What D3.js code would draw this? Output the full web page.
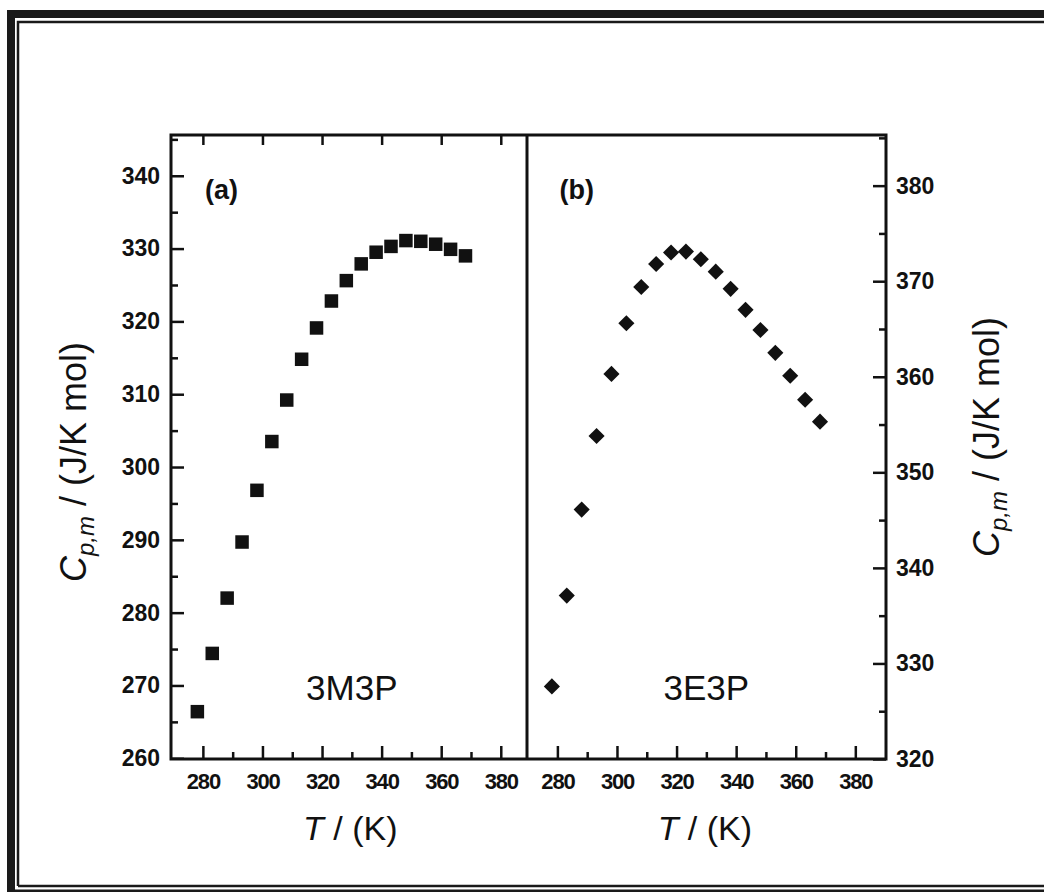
<!DOCTYPE html>
<html><head><meta charset="utf-8">
<script src="https://cdn.jsdelivr.net/npm/d3@7"></script>
<style>
html,body{margin:0;padding:0;background:#fff;}
svg{display:block;}
text{font-family:"Liberation Sans",Arial,sans-serif;fill:#111;}
</style></head>
<body>
<script>
// ---- data ----
const temps = [278.15,283.15,288.15,293.15,298.15,303.15,308.15,313.15,318.15,323.15,328.15,333.15,338.15,343.15,348.15,353.15,358.15,363.15,368.15];
const cp3M3P = [266.4,274.4,282.0,289.7,296.8,303.5,309.2,314.8,319.1,322.8,325.6,327.9,329.5,330.3,331.1,331.0,330.6,329.9,329.0];
const cp3E3P = [327.6,337.1,346.1,353.8,360.3,365.6,369.4,371.8,373.0,373.1,372.3,371.0,369.2,367.0,364.9,362.5,360.1,357.6,355.3];
const xTicksMajor = [280,300,320,340,360,380];
const xTicksMinor = [290,310,330,350,370];
const yLeftMajor = [260,270,280,290,300,310,320,330,340];
const yLeftMinor = [265,275,285,295,305,315,325,335,345];
const yRightMajor = [320,330,340,350,360,370,380];
const yRightMinor = [325,335,345,355,365,375,385];
const panelLabels = ["(a)","(b)"];
const compoundLabels = ["3M3P","3E3P"];

const W=1044,H=892;
const svg=d3.select("body").append("svg").attr("width",W).attr("height",H);

// outer frame (double border)
svg.append("path").attr("d","M11,892 V14 H1044").attr("fill","none").attr("stroke","#1a1a1a").attr("stroke-width",8);
svg.append("path").attr("d","M18,886 V22 H1044").attr("fill","none").attr("stroke","#1a1a1a").attr("stroke-width",2.5);
svg.append("line").attr("x1",18).attr("x2",1044).attr("y1",886).attr("y2",886).attr("stroke","#1a1a1a").attr("stroke-width",2.5);
svg.append("line").attr("x1",7).attr("x2",1044).attr("y1",891).attr("y2",891).attr("stroke","#1a1a1a").attr("stroke-width",3);

const pTop=135,pBottom=759;
const xA=d3.scaleLinear().domain([269.3,388.8]).range([171,527]);
const xB=d3.scaleLinear().domain([269.8,390.3]).range([527,886]);
const yA=d3.scaleLinear().domain([259.9,345.6]).range([pBottom,pTop]);
const yB=d3.scaleLinear().domain([320,385.3]).range([pBottom,pTop]);

function styleAxis(g,fs){
  g.select(".domain").remove();
  g.selectAll(".tick line").attr("stroke","#111").attr("stroke-width",2.5);
  g.selectAll(".tick text").attr("font-size",fs||22).attr("font-weight","bold").attr("fill","#111").attr("font-family","'Liberation Sans',Arial,sans-serif");
}

// x axes
[xA,xB].forEach(x=>{
  const gM=svg.append("g").attr("transform",`translate(0,${pBottom})`)
    .call(d3.axisBottom(x).tickValues(xTicksMajor).tickSize(-13).tickPadding(14).tickFormat(d3.format("d")));
  styleAxis(gM,22);
  gM.selectAll(".tick text").attr("letter-spacing","-1.2");
  const gm=svg.append("g").attr("transform",`translate(0,${pBottom})`)
    .call(d3.axisBottom(x).tickValues(xTicksMinor).tickSize(-7).tickFormat(""));
  styleAxis(gm);
});
// top ticks on left panel
const gT=svg.append("g").attr("transform",`translate(0,${pTop})`)
  .call(d3.axisTop(xA).tickValues(xTicksMajor).tickSize(-10).tickFormat(""));
styleAxis(gT);

// left y axis
const gYL=svg.append("g").attr("transform","translate(171,0)")
  .call(d3.axisLeft(yA).tickValues(yLeftMajor).tickSize(-13).tickPadding(11).tickFormat(d3.format("d")));
styleAxis(gYL,23);
const gYLm=svg.append("g").attr("transform","translate(171,0)")
  .call(d3.axisLeft(yA).tickValues(yLeftMinor).tickSize(-7).tickFormat(""));
styleAxis(gYLm);

// right y axis
const gYR=svg.append("g").attr("transform","translate(886,0)")
  .call(d3.axisRight(yB).tickValues(yRightMajor).tickSize(-13).tickPadding(10).tickFormat(d3.format("d")));
styleAxis(gYR,23);
const gYRm=svg.append("g").attr("transform","translate(886,0)")
  .call(d3.axisRight(yB).tickValues(yRightMinor).tickSize(-7).tickFormat(""));
styleAxis(gYRm);

// frames
svg.append("rect").attr("x",171).attr("y",pTop).attr("width",886-171).attr("height",pBottom-pTop)
  .attr("fill","none").attr("stroke","#111").attr("stroke-width",3);
svg.append("line").attr("x1",527).attr("x2",527).attr("y1",pTop).attr("y2",pBottom).attr("stroke","#111").attr("stroke-width",3);

// data: squares
const sq=13.5;
svg.append("g").selectAll("rect").data(temps.map((t,i)=>[t,cp3M3P[i]])).join("rect")
  .attr("x",d=>xA(d[0])-sq/2).attr("y",d=>yA(d[1])-sq/2).attr("width",sq).attr("height",sq).attr("fill","#111");
// diamonds
const dm=d3.symbol().type(d3.symbolSquare).size(130);
svg.append("g").selectAll("path").data(temps.map((t,i)=>[t,cp3E3P[i]])).join("path")
  .attr("d",dm).attr("transform",d=>`translate(${xB(d[0])},${yB(d[1])}) rotate(45)`).attr("fill","#111");

// panel labels
[[xA,panelLabels[0],compoundLabels[0]],[xB,panelLabels[1],compoundLabels[1]]].forEach(([x,pl,cl])=>{
  svg.append("text").attr("x",x(270)+32).attr("y",199).attr("font-size",27).attr("font-weight","bold").text(pl);
  svg.append("text").attr("x",x(330)).attr("y",700).attr("font-size",35).attr("text-anchor","middle").text(cl);
});

// x titles
[xA,xB].forEach(x=>{
  const t=svg.append("text").attr("x",x(329.5)).attr("y",840).attr("font-size",34).attr("text-anchor","middle");
  t.append("tspan").attr("font-style","italic").text("T");
  t.append("tspan").text(" / (K)");
});

// y titles
function yTitle(cx,cy){
  const t=svg.append("text").attr("transform",`translate(${cx},${cy}) rotate(-90)`).attr("font-size",36).attr("text-anchor","middle");
  t.append("tspan").attr("font-style","italic").text("C");
  t.append("tspan").attr("font-size",24).attr("font-style","italic").attr("dy",8).text("p,m");
  t.append("tspan").attr("dy",-8).text(" / (J/K mol)");
}
yTitle(86,462);
yTitle(999,437);
</script>
</body></html>
